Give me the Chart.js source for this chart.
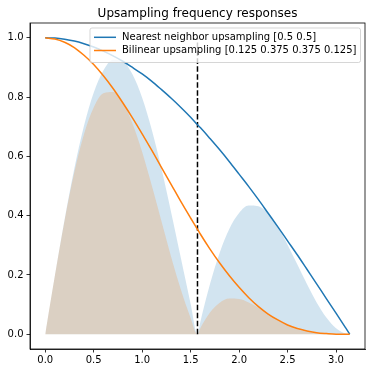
<!DOCTYPE html>
<html><head><meta charset="utf-8">
<script src="https://cdn.jsdelivr.net/npm/chart.js@4.4.0/dist/chart.umd.min.js"></script>
<style>html,body{margin:0;padding:0;background:#fff;overflow:hidden}canvas{display:block}</style>
</head><body>
<canvas id="c" width="372" height="373"></canvas>
<script>
const freqs = [0,0.1,0.2,0.3,0.4,0.5,0.6,0.7,0.8,0.9,1.0,1.1,1.2,1.3,1.4,1.5,1.5708,1.6,1.7,1.8,1.9,2.0,2.1,2.2,2.3,2.4,2.5,2.6,2.7,2.8,2.9,3.0,3.1,3.1416];
const nearestResponse = [1.000,0.999,0.995,0.989,0.980,0.969,0.955,0.939,0.921,0.900,0.878,0.853,0.825,0.796,0.765,0.732,0.707,0.697,0.660,0.622,0.582,0.540,0.498,0.454,0.408,0.362,0.315,0.268,0.219,0.170,0.120,0.071,0.021,0.000];
const bilinearResponse = [1.000,0.996,0.985,0.967,0.941,0.910,0.872,0.829,0.781,0.730,0.676,0.620,0.562,0.505,0.447,0.392,0.354,0.338,0.287,0.240,0.197,0.158,0.123,0.093,0.068,0.048,0.031,0.019,0.011,0.005,0.002,0.000,0.000,0.000];
const nearestSpectrum = [0,0.198,0.387,0.558,0.703,0.815,0.890,0.926,0.921,0.877,0.798,0.689,0.557,0.410,0.256,0.103,0,0.041,0.169,0.275,0.356,0.409,0.434,0.432,0.406,0.361,0.302,0.236,0.169,0.107,0.056,0.020,0.002,0];
const bilinearSpectrum = [0,0.198,0.384,0.546,0.675,0.765,0.813,0.817,0.781,0.711,0.615,0.501,0.380,0.260,0.150,0.055,0,0.020,0.073,0.106,0.120,0.119,0.107,0.089,0.068,0.047,0.030,0.017,0.008,0.003,0.001,0.000,0.000,0];
const cutoffX = [1.5708,1.5708];
const cutoffY = [0,1];
const xTicks = [0,0.5,1.0,1.5,2.0,2.5,3.0];
const yTicks = [0,0.2,0.4,0.6,0.8,1.0];
const chartTitle = 'Upsampling frequency responses';
const seriesNames = ['Nearest neighbor upsampling [0.5 0.5]','Bilinear upsampling [0.125 0.375 0.375 0.125]'];

const BLUE = '#1f77b4', ORANGE = '#ff7f0e';
const pts = (xs, ys) => xs.map((x,i)=>({x, y: ys[i]}));
const FONT = 'DejaVu Sans';

const decor = {
  id: 'decor',
  afterDraw(chart) {
    const ctx = chart.ctx, a = chart.chartArea;
    ctx.save();
    ctx.strokeStyle = '#000'; ctx.lineWidth = 0.8;
    ctx.strokeRect(a.left, a.top, a.right - a.left, a.bottom - a.top);
    ctx.fillStyle = '#000';
    ctx.font = '12px "' + FONT + '"';
    ctx.textAlign = 'center'; ctx.textBaseline = 'alphabetic';
    ctx.fillText(chartTitle, (a.left + a.right) / 2, 16.5);
    const bx = 90, by = 28, bw = 270.5, bh = 34.5, r = 2;
    ctx.beginPath();
    ctx.moveTo(bx + r, by);
    ctx.arcTo(bx + bw, by, bx + bw, by + bh, r);
    ctx.arcTo(bx + bw, by + bh, bx, by + bh, r);
    ctx.arcTo(bx, by + bh, bx, by, r);
    ctx.arcTo(bx, by, bx + bw, by, r);
    ctx.closePath();
    ctx.fillStyle = 'rgba(255,255,255,0.8)';
    ctx.fill();
    ctx.strokeStyle = 'rgba(204,204,204,0.8)'; ctx.lineWidth = 1;
    ctx.stroke();
    const colors = [BLUE, ORANGE];
    const rowsY = [37.3, 50.5];
    ctx.font = '10px "' + FONT + '"';
    ctx.textAlign = 'left'; ctx.textBaseline = 'middle';
    seriesNames.forEach((name, i) => {
      ctx.strokeStyle = colors[i]; ctx.lineWidth = 1.5;
      ctx.beginPath(); ctx.moveTo(94, rowsY[i]); ctx.lineTo(116, rowsY[i]); ctx.stroke();
      ctx.fillStyle = '#000';
      ctx.fillText(name, 122, rowsY[i]);
    });
    ctx.restore();
  }
};

const tickFont = {family: FONT, size: 10};
new Chart(document.getElementById('c'), {
  type: 'line',
  data: {
    datasets: [
      {data: pts(freqs, nearestSpectrum), fill: 'origin', backgroundColor: 'rgba(31,119,180,0.2)', borderColor: 'rgba(0,0,0,0)', borderWidth: 0, pointRadius: 0, cubicInterpolationMode: 'monotone', order: 5},
      {data: pts(freqs, bilinearSpectrum), fill: 'origin', backgroundColor: 'rgba(255,127,14,0.2)', borderColor: 'rgba(0,0,0,0)', borderWidth: 0, pointRadius: 0, cubicInterpolationMode: 'monotone', order: 4},
      {data: pts(cutoffX, cutoffY), fill: false, borderColor: '#000', borderWidth: 1.5, borderDash: [5.55, 2.4], pointRadius: 0, order: 3},
      {data: pts(freqs, nearestResponse), fill: false, borderColor: BLUE, borderWidth: 1.5, pointRadius: 0, cubicInterpolationMode: 'monotone', order: 2},
      {data: pts(freqs, bilinearResponse), fill: false, borderColor: ORANGE, borderWidth: 1.5, pointRadius: 0, cubicInterpolationMode: 'monotone', order: 1}
    ]
  },
  options: {
    responsive: false, animation: false, devicePixelRatio: 1,
    layout: {padding: {top: 23, right: 7, left: 0, bottom: 0}},
    plugins: {legend: {display: false}, title: {display: false}, tooltip: {enabled: false}},
    scales: {
      x: {
        type: 'linear', min: -0.157, max: 3.299,
        afterBuildTicks: s => { s.ticks = xTicks.map(v => ({value: v})); },
        afterFit: s => { s.height = 24; },
        ticks: {callback: v => Number(v).toFixed(1), color: '#000', font: tickFont, padding: 2, maxRotation: 0, autoSkip: false},
        grid: {drawOnChartArea: false, drawTicks: true, tickLength: 3.5, tickColor: '#000', tickWidth: 0.8},
        border: {display: true, color: '#000', width: 0.8}
      },
      y: {
        type: 'linear', min: -0.05, max: 1.05,
        afterBuildTicks: s => { s.ticks = yTicks.map(v => ({value: v})); },
        afterFit: s => { s.width = 30; },
        ticks: {callback: v => Number(v).toFixed(1), color: '#000', font: tickFont, padding: 3, autoSkip: false},
        grid: {drawOnChartArea: false, drawTicks: true, tickLength: 3.5, tickColor: '#000', tickWidth: 0.8},
        border: {display: true, color: '#000', width: 0.8}
      }
    }
  },
  plugins: [decor]
});
</script>
</body></html>
